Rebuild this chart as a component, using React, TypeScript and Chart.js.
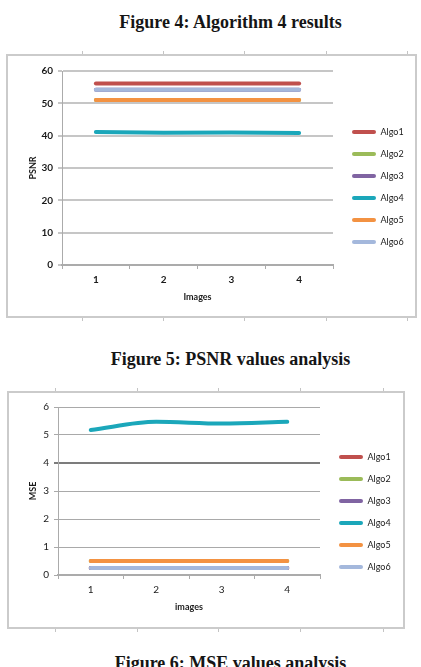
import React, { useEffect, useRef } from "react";
import { Chart, registerables } from "chart.js";

Chart.register(...registerables);

// ---------- data ----------
const imageLabels = ["1", "2", "3", "4"];
const algoNames = ["Algo1", "Algo2", "Algo3", "Algo4", "Algo5", "Algo6"];
const algoColors = ["#c0504d", "#9bbb59", "#8064a2", "#1ba7ba", "#f39242", "#a4b8dc"];

const psnrAlgo1 = [56.1, 56.1, 56.1, 56.1];
const psnrAlgo2 = [51.0, 51.0, 51.0, 51.0];
const psnrAlgo3 = [54.2, 54.2, 54.2, 54.2];
const psnrAlgo4 = [41.1, 40.9, 41.0, 40.8];
const psnrAlgo5 = [51.0, 51.0, 51.0, 51.0];
const psnrAlgo6 = [54.2, 54.2, 54.2, 54.2];
const psnrAxis = { min: 0, max: 60, step: 10 };

const mseAlgo1 = [0.25, 0.25, 0.25, 0.25];
const mseAlgo2 = [0.5, 0.5, 0.5, 0.5];
const mseAlgo3 = [0.25, 0.25, 0.25, 0.25];
const mseAlgo4 = [5.18, 5.47, 5.41, 5.47];
const mseAlgo5 = [0.5, 0.5, 0.5, 0.5];
const mseAlgo6 = [0.25, 0.25, 0.25, 0.25];
const mseAxis = { min: 0, max: 6, step: 1 };

const captions = [
  "Figure 4: Algorithm 4 results",
  "Figure 5: PSNR values analysis",
  "Figure 6: MSE values analysis",
];

// ---------- chart config ----------
const FONT = "Lato, 'Liberation Sans', sans-serif";
const TEXT = "#1a1a1a";

type Geo = {
  yWidth: number;
  xHeight: number;
  padTop: number;
  padRight: number;
  padBottom: number;
  yTitlePad: number;
  xTitlePad: number;
  legendGap: number;
};

function buildConfig(
  series: number[][],
  axis: { min: number; max: number; step: number },
  yTitle: string,
  xTitle: string,
  tension: number,
  geo: Geo,
  boldTicks: boolean,
  gridStyle: (v: number) => { color: string; width: number }
): any {
  const tickFont = { family: FONT, size: 10, weight: boldTicks ? "bold" : "normal" } as any;
  const titleFont = { family: FONT, size: 9, weight: "bold" } as any;
  return {
    type: "line",
    data: {
      labels: imageLabels,
      datasets: series.map((vals, i) => ({
        label: algoNames[i],
        data: vals,
        borderColor: algoColors[i],
        backgroundColor: algoColors[i],
        borderWidth: 4,
        pointRadius: 0,
        pointHoverRadius: 0,
        tension,
        cubicInterpolationMode: tension > 0 ? "monotone" : "default",
        fill: false,
        borderCapStyle: "round",
        borderJoinStyle: "round",
        order: series.length - 1 - i,
      })),
    },
    options: {
      animation: false,
      responsive: false,
      maintainAspectRatio: false,
      events: [],
      layout: { padding: { top: geo.padTop, right: geo.padRight, bottom: geo.padBottom, left: 0 } },
      plugins: {
        tooltip: { enabled: false },
        legend: {
          display: true,
          position: "right",
          align: "center",
          maxWidth: 73,
          labels: {
            boxWidth: 24,
            boxHeight: 4,
            padding: 13,
            color: TEXT,
            useBorderRadius: true,
            borderRadius: 2,
            font: { family: FONT, size: 9 },
            generateLabels: (chart: any) =>
              (Chart.defaults.plugins.legend.labels as any)
                .generateLabels(chart)
                .map((it: any) => ({
                  ...it,
                  lineWidth: 0,
                  fillStyle: algoColors[it.datasetIndex],
                  strokeStyle: algoColors[it.datasetIndex],
                  borderRadius: 2,
                }))
                .sort((a: any, b: any) => a.datasetIndex - b.datasetIndex),
          },
        },
      },
      scales: {
        x: {
          type: "category",
          offset: true,
          grid: {
            display: true,
            drawOnChartArea: false,
            drawTicks: true,
            tickLength: 4,
            offset: true,
            color: "#ababab",
            lineWidth: 1,
          },
          border: { display: true, color: "#ababab", width: 2 },
          ticks: { padding: 5, color: TEXT, font: tickFont },
          title: {
            display: true,
            text: xTitle,
            color: TEXT,
            font: titleFont,
            padding: { top: 0, bottom: geo.xTitlePad },
          },
          afterFit: (s: any) => {
            s.height = geo.xHeight;
          },
        },
        y: {
          type: "linear",
          min: axis.min,
          max: axis.max,
          ticks: { stepSize: axis.step, padding: 5, color: TEXT, font: tickFont },
          grid: {
            color: (c: any) => gridStyle(c.tick ? c.tick.value : 0).color,
            lineWidth: (c: any) => gridStyle(c.tick ? c.tick.value : 0).width,
            tickLength: 4,
            drawTicks: true,
          },
          border: { display: true, color: "#ababab", width: 1 },
          title: {
            display: true,
            text: yTitle,
            color: TEXT,
            font: titleFont,
            padding: { top: geo.yTitlePad, bottom: 0 },
          },
          afterFit: (s: any) => {
            s.width = geo.yWidth;
          },
        },
        yPad: {
          type: "linear",
          position: "right",
          display: true,
          grid: { display: false, drawTicks: false },
          border: { display: false },
          ticks: { display: false },
          afterFit: (s: any) => {
            s.width = geo.legendGap;
          },
        },
      },
    },
  };
}

function ChartCanvas(props: {
  build: () => any;
  left: number;
  top: number;
  width: number;
  height: number;
}) {
  const ref = useRef<HTMLCanvasElement>(null);
  useEffect(() => {
    const chart = new Chart(ref.current as HTMLCanvasElement, props.build());
    return () => chart.destroy();
  }, []);
  return (
    <canvas
      ref={ref}
      width={props.width}
      height={props.height}
      style={{
        position: "absolute",
        left: props.left,
        top: props.top,
        width: props.width,
        height: props.height,
      }}
    />
  );
}

function Frame(props: { left: number; top: number; width: number; height: number; ticks: number[] }) {
  const { left, top, width, height, ticks } = props;
  return (
    <>
      <div
        style={{
          position: "absolute",
          left,
          top,
          width,
          height,
          boxSizing: "border-box",
          border: "2px solid #cbcbcb",
          background: "#fff",
        }}
      />
      {ticks.map((x, i) => (
        <React.Fragment key={i}>
          <div style={{ position: "absolute", left: x, top: top - 3, width: 1, height: 3, background: "#c4c4c4" }} />
          <div style={{ position: "absolute", left: x, top: top + height, width: 1, height: 3, background: "#c4c4c4" }} />
        </React.Fragment>
      ))}
    </>
  );
}

const captionStyle: React.CSSProperties = {
  position: "absolute",
  left: 20,
  width: 421,
  height: 20,
  lineHeight: "20px",
  textAlign: "center",
  fontFamily: "'Liberation Serif', 'Times New Roman', serif",
  fontWeight: "bold",
  fontSize: 18,
  color: "#151515",
  whiteSpace: "nowrap",
};

export default function App() {
  const buildPsnr = () =>
    buildConfig(
      [psnrAlgo1, psnrAlgo2, psnrAlgo3, psnrAlgo4, psnrAlgo5, psnrAlgo6],
      psnrAxis,
      "PSNR",
      "Images",
      0,
      { yWidth: 54, xHeight: 38, padTop: 15, padRight: 3, padBottom: 13, yTitlePad: 20, xTitlePad: 1, legendGap: 6 },
      true,
      () => ({ color: "#c6c6c6", width: 2 })
    );
  const buildMse = () =>
    buildConfig(
      [mseAlgo1, mseAlgo2, mseAlgo3, mseAlgo4, mseAlgo5, mseAlgo6],
      mseAxis,
      "MSE",
      "images",
      0.4,
      { yWidth: 49, xHeight: 42, padTop: 14, padRight: 4, padBottom: 10, yTitlePad: 19, xTitlePad: 5, legendGap: 6 },
      false,
      (v: number) => (v === 4 ? { color: "#7c7c7c", width: 2 } : { color: "#a9a9a9", width: 1 })
    );

  return (
    <div
      style={{
        position: "absolute",
        left: 0,
        top: 0,
        width: 421,
        height: 667,
        overflow: "hidden",
        background: "#fff",
      }}
    >
      <div style={{ ...captionStyle, top: 12 }}>{captions[0]}</div>
      <Frame left={6} top={54} width={411} height={264} ticks={[82, 163, 244, 326, 407]} />
      <ChartCanvas build={buildPsnr} left={8} top={56} width={407} height={260} />

      <div style={{ ...captionStyle, top: 349 }}>{captions[1]}</div>
      <Frame left={7} top={391} width={398} height={238} ticks={[55, 137, 218, 300, 383]} />
      <ChartCanvas build={buildMse} left={9} top={393} width={394} height={234} />

      <div style={{ ...captionStyle, top: 653 }}>{captions[2]}</div>
    </div>
  );
}
